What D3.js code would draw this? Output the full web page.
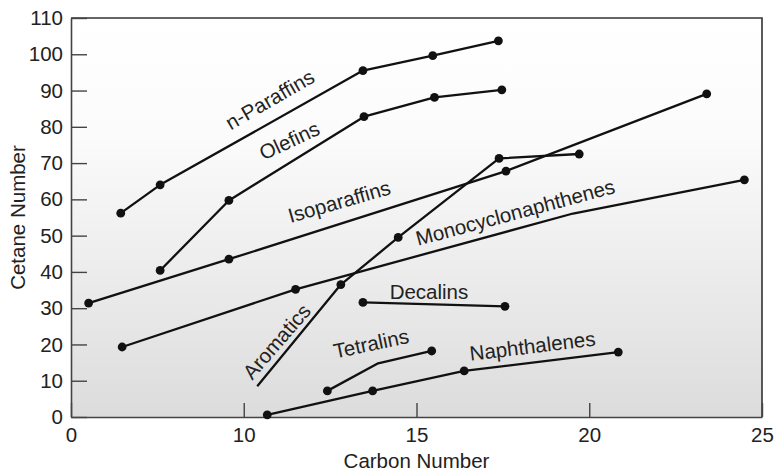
<!DOCTYPE html>
<html><head><meta charset="utf-8">
<script src="https://cdn.jsdelivr.net/npm/d3@7"></script>
<style>
body{margin:0;background:#fff}
svg{display:block}
text{font-family:"Liberation Sans",Arial,Helvetica,sans-serif;fill:#222}
</style>
</head><body>
<svg id="chart" width="775" height="473"></svg>
<script>
// ---- tick labels ----
const xTickValues = [5, 10, 15, 20, 25];
const xTickLabels = ["0", "10", "15", "20", "25"];
const yTickValues = [0, 10, 20, 30, 40, 50, 60, 70, 80, 90, 100, 110];

// ---- series (carbon number, cetane number) ----
const nParaffinsCarbon = [6.44, 7.58, 13.45, 15.47, 17.37];
const nParaffinsCetane = [56.2, 64.0, 95.5, 99.6, 103.7];
const nParaffinsMark   = [1, 1, 1, 1, 1];

const olefinsCarbon = [7.58, 9.57, 13.48, 15.52, 17.47];
const olefinsCetane = [40.4, 59.7, 82.8, 88.1, 90.2];
const olefinsMark   = [1, 1, 1, 1, 1];

const isoparaffinsCarbon = [5.51, 9.57, 17.59, 23.40];
const isoparaffinsCetane = [31.4, 43.5, 67.8, 89.1];
const isoparaffinsMark   = [1, 1, 1, 1];

const monocycloCarbon = [6.48, 11.50, 19.53, 24.49];
const monocycloCetane = [19.3, 35.2, 56.1, 65.4];
const monocycloMark   = [1, 1, 0, 1];

const aromaticsCarbon = [10.39, 12.81, 14.47, 17.39, 19.71];
const aromaticsCetane = [8.5, 36.5, 49.5, 71.3, 72.5];
const aromaticsMark   = [0, 1, 1, 1, 1];

const decalinsCarbon = [13.45, 17.56];
const decalinsCetane = [31.6, 30.5];
const decalinsMark   = [1, 1];

const tetralinsCarbon = [12.42, 13.89, 15.44];
const tetralinsCetane = [7.2, 14.8, 18.2];
const tetralinsMark   = [1, 0, 1];

const naphthalenesCarbon = [10.68, 13.73, 16.38, 20.84];
const naphthalenesCetane = [0.6, 7.2, 12.7, 17.9];
const naphthalenesMark   = [1, 1, 1, 1];

// ---- curve labels ----
const curveLabels  = ["n-Paraffins", "Olefins", "Isoparaffins", "Monocyclonaphthenes", "Aromatics", "Decalins", "Tetralins", "Naphthalenes"];
const labelCarbon  = [10.86, 11.41, 12.82, 17.91, 11.11, 15.36, 13.73, 18.38];
const labelCetane  = [85.8, 74.4, 57.5, 54.5, 19.5, 32.5, 18.3, 17.6];
const labelAngle   = [-30, -25, -16, -15, -49, 0, -12, -7];

const seriesList = [
  [nParaffinsCarbon, nParaffinsCetane, nParaffinsMark],
  [olefinsCarbon, olefinsCetane, olefinsMark],
  [isoparaffinsCarbon, isoparaffinsCetane, isoparaffinsMark],
  [monocycloCarbon, monocycloCetane, monocycloMark],
  [aromaticsCarbon, aromaticsCetane, aromaticsMark],
  [decalinsCarbon, decalinsCetane, decalinsMark],
  [tetralinsCarbon, tetralinsCetane, tetralinsMark],
  [naphthalenesCarbon, naphthalenesCetane, naphthalenesMark]
].map(([xs, ys, ms]) => xs.map((x, i) => ({x, y: ys[i], m: ms[i]})));

// ---- layout ----
const W = 775, H = 473;
const FS = 20.5;
const margin = {left: 71, right: 13, top: 18, bottom: 56};
const svg = d3.select("#chart");
const x = d3.scaleLinear().domain([5, 25]).range([margin.left, W - margin.right]);
const y = d3.scaleLinear().domain([0, 110]).range([H - margin.bottom, margin.top]);

// background gradient
const defs = svg.append("defs");
const grad = defs.append("linearGradient").attr("id", "bg").attr("x1", 0).attr("y1", 0).attr("x2", 0).attr("y2", 1);
grad.append("stop").attr("offset", "0%").attr("stop-color", "#ffffff");
grad.append("stop").attr("offset", "30%").attr("stop-color", "#fbfbfb");
grad.append("stop").attr("offset", "100%").attr("stop-color", "#dcdcdc");
svg.append("rect")
  .attr("x", x(5)).attr("y", y(110))
  .attr("width", x(25) - x(5)).attr("height", y(0) - y(110))
  .attr("fill", "url(#bg)");

// frame top/right
svg.append("path")
  .attr("d", `M${x(5)},${y(110)}H${x(25)}V${y(0)}`)
  .attr("fill", "none").attr("stroke", "#333").attr("stroke-width", 1.6);

// axes
const xAxis = svg.append("g").attr("transform", `translate(0,${y(0)})`)
  .call(d3.axisBottom(x).tickValues(xTickValues)
    .tickFormat((d, i) => xTickLabels[i]).tickSizeInner(-14).tickSizeOuter(0).tickPadding(10));
const yAxis = svg.append("g").attr("transform", `translate(${x(5)},0)`)
  .call(d3.axisLeft(y).tickValues(yTickValues).tickSizeInner(-16).tickSizeOuter(0).tickPadding(8));
[xAxis, yAxis].forEach(g => {
  g.attr("font-size", FS).attr("font-family", '"Liberation Sans", Arial, sans-serif');
  g.select(".domain").attr("stroke", "#444").attr("stroke-width", 1.6);
  g.selectAll(".tick line").attr("stroke", "#444").attr("stroke-width", 1.4);
  g.selectAll(".tick text").attr("fill", "#222");
});

// lines and markers
const line = d3.line().x(d => x(d.x)).y(d => y(d.y));
const plot = svg.append("g");
seriesList.forEach(s => {
  plot.append("path").datum(s).attr("d", line)
    .attr("fill", "none").attr("stroke", "#111").attr("stroke-width", 2.3)
    .attr("stroke-linejoin", "round");
  plot.selectAll(null).data(s.filter(d => d.m)).enter().append("circle")
    .attr("cx", d => x(d.x)).attr("cy", d => y(d.y)).attr("r", 4.4).attr("fill", "#111");
});

// curve labels
curveLabels.forEach((t, i) => {
  svg.append("text")
    .attr("transform", `translate(${x(labelCarbon[i])},${y(labelCetane[i])}) rotate(${labelAngle[i]})`)
    .attr("text-anchor", "middle").attr("font-size", FS).text(t);
});

// axis titles
svg.append("text").attr("x", (x(5) + x(25)) / 2).attr("y", 468)
  .attr("text-anchor", "middle").attr("font-size", FS).text("Carbon Number");
svg.append("text").attr("transform", `translate(25,${(y(0) + y(110)) / 2}) rotate(-90)`)
  .attr("text-anchor", "middle").attr("font-size", FS).text("Cetane Number");
</script>
</body></html>
